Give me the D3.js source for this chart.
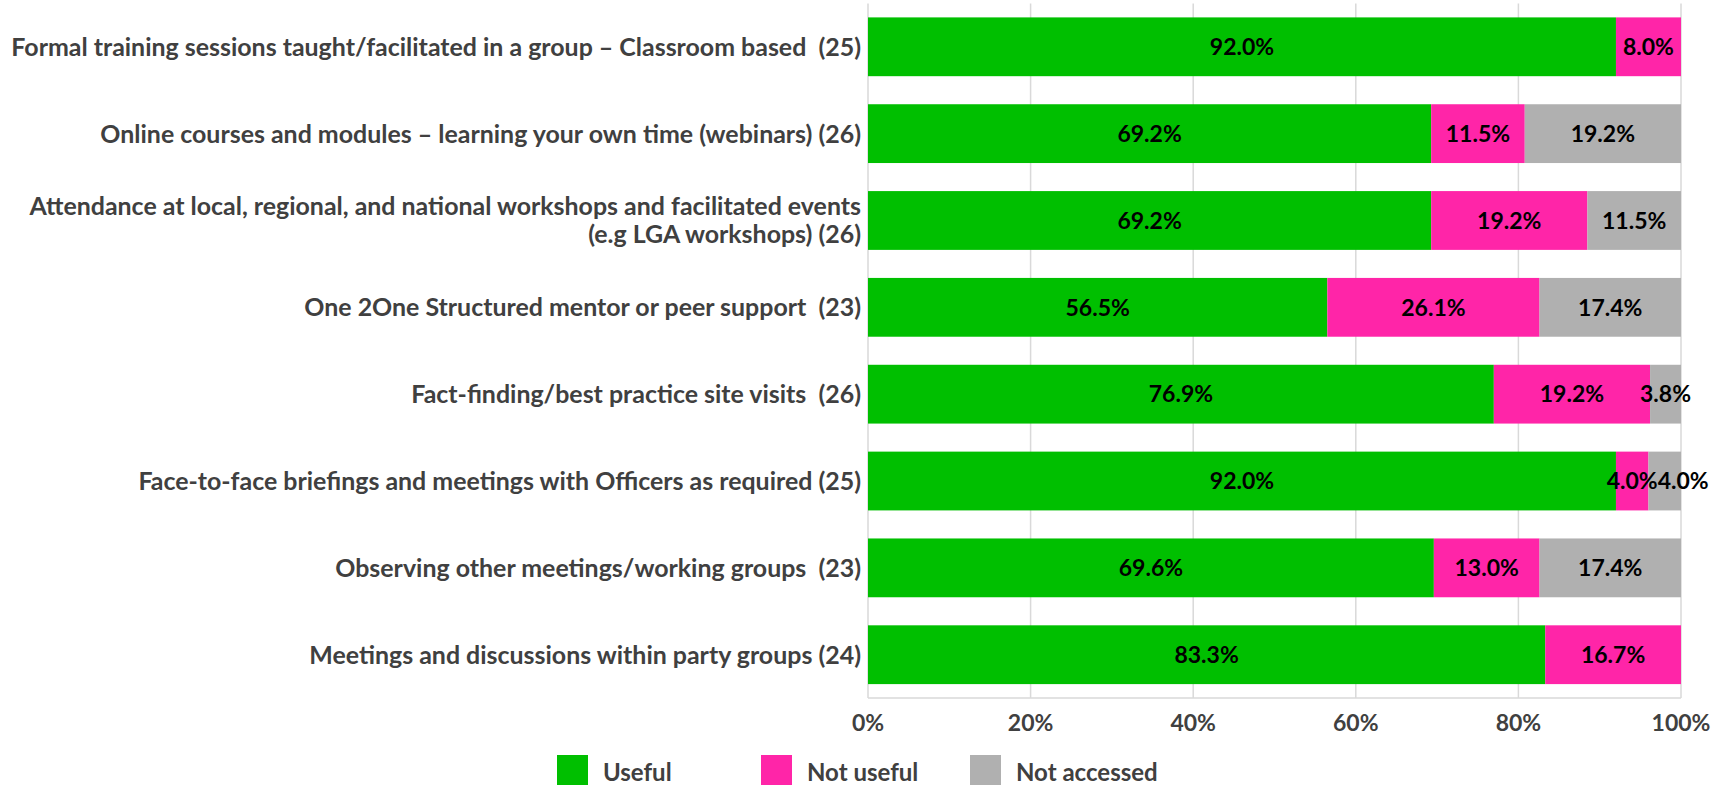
<!DOCTYPE html>
<html>
<head>
<meta charset="utf-8">
<script src="https://cdn.jsdelivr.net/npm/d3@7"></script>
<style>
  html, body { margin: 0; padding: 0; background: #ffffff; }
  svg { display: block; }
  text { font-family: Lato, "Open Sans", "DejaVu Sans", sans-serif; font-weight: 700; }
</style>
</head>
<body>
<svg id="chart" width="1729" height="785"></svg>
<script>
const categories = [
  "Formal training sessions taught/facilitated in a group \u2013 Classroom based  (25)",
  "Online courses and modules \u2013 learning your own time (webinars) (26)",
  "Attendance at local, regional, and national workshops and facilitated events\n(e.g LGA workshops) (26)",
  "One 2One Structured mentor or peer support  (23)",
  "Fact-finding/best practice site visits  (26)",
  "Face-to-face briefings and meetings with Officers as required (25)",
  "Observing other meetings/working groups  (23)",
  "Meetings and discussions within party groups (24)"
];
const useful      = [92.0, 69.2, 69.2, 56.5, 76.9, 92.0, 69.6, 83.3];
const notUseful   = [8.0, 11.5, 19.2, 26.1, 19.2, 4.0, 13.0, 16.7];
const notAccessed = [0.0, 19.2, 11.5, 17.4, 3.8, 4.0, 17.4, 0.0];
const seriesNames = ["Useful", "Not useful", "Not accessed"];
const xTicks = [0, 0.2, 0.4, 0.6, 0.8, 1.0];

const colors = ["#00BF00", "#FF25A8", "#B0B0B0"];
const seriesValues = [useful, notUseful, notAccessed];

const rows = categories.map((c, i) => {
  const r = { cat: c };
  seriesNames.forEach((s, j) => r[s] = seriesValues[j][i]);
  return r;
});

const svg = d3.select("#chart");
const x = d3.scaleLinear().domain([0, 1]).range([868, 1681]);
const y = d3.scaleBand().domain(categories).range([3.5, 698]).paddingInner(0.323).paddingOuter(0.16);

const stack = d3.stack().keys(seriesNames).offset(d3.stackOffsetExpand);
const stacked = stack(rows);

// gridlines
svg.append("g").selectAll("line").data(xTicks).join("line")
  .attr("x1", d => x(d)).attr("x2", d => x(d))
  .attr("y1", 3.5).attr("y2", 698)
  .attr("stroke", "#D9D9D9").attr("stroke-width", 1.5);
svg.append("line").attr("x1", x(0)).attr("x2", x(1)).attr("y1", 698).attr("y2", 698)
  .attr("stroke", "#D9D9D9").attr("stroke-width", 1.5);

// bars
const layers = svg.append("g").selectAll("g").data(stacked).join("g")
  .attr("fill", (d, i) => colors[i]);
layers.selectAll("rect").data(d => d.map(p => ({ p, cat: p.data.cat })))
  .join("rect")
  .attr("x", d => x(d.p[0]))
  .attr("width", d => Math.max(0, x(d.p[1]) - x(d.p[0])))
  .attr("y", d => y(d.cat))
  .attr("height", y.bandwidth());

// data labels
const labelG = svg.append("g");
const labelsByRow = categories.map(() => []);
stacked.forEach((layer, si) => {
  layer.forEach((p, ri) => {
    const v = seriesValues[si][ri];
    if (v <= 0) return;
    const t = labelG.append("text")
      .attr("x", x((p[0] + p[1]) / 2))
      .attr("y", y(p.data.cat) + y.bandwidth() / 2)
      .attr("dy", "0.36em")
      .attr("text-anchor", "middle")
      .attr("font-size", 23)
      .attr("fill", "#000000")
      .text(v.toFixed(1) + "%");
    labelsByRow[ri].push(t);
  });
});
// simple overlap avoidance: push later labels right
labelsByRow.forEach(list => {
  for (let k = 1; k < list.length; k++) {
    const prev = list[k - 1], cur = list[k];
    const pw = prev.node().getComputedTextLength();
    const cw = cur.node().getComputedTextLength();
    const prevRight = +prev.attr("x") + pw / 2;
    const curLeft = +cur.attr("x") - cw / 2;
    if (curLeft < prevRight) cur.attr("x", prevRight + cw / 2);
  }
});

// category labels
const catG = svg.append("g");
const catTexts = catG.selectAll("text").data(categories).join("text")
  .attr("text-anchor", "end")
  .attr("fill", "#404040")
  .attr("font-size", 22)
  .style("white-space", "pre")
  .attr("xml:space", "preserve");
catTexts.each(function (d) {
  const lines = d.split("\n");
  const t = d3.select(this);
  const cy = y(d) + y.bandwidth() / 2;
  const lh = 28;
  lines.forEach((ln, li) => {
    t.append("tspan")
      .attr("x", 861)
      .attr("y", cy + (li - (lines.length - 1) / 2) * lh)
      .attr("dy", "0.36em")
      .text(ln);
  });
});
// fit font so the longest single line matches the reference width
{
  const first = catTexts.filter((d, i) => i === 0).node();
  const w = first.getComputedTextLength();
  const fs = 22 * 850 / w;
  catTexts.attr("font-size", fs);
}

// x axis labels
svg.append("g").selectAll("text").data(xTicks).join("text")
  .attr("x", d => x(d))
  .attr("y", 723)
  .attr("dy", "0.36em")
  .attr("text-anchor", "middle")
  .attr("font-size", 23)
  .attr("fill", "#404040")
  .text(d => Math.round(d * 100) + "%");

// legend
const legendX = [557, 761, 970];
const lg = svg.append("g").selectAll("g").data(seriesNames).join("g")
  .attr("transform", (d, i) => `translate(${legendX[i]},755)`);
lg.append("rect").attr("width", 31).attr("height", 31).attr("fill", (d, i) => colors[i]);
lg.append("text").attr("x", 46).attr("y", 17).attr("dy", "0.36em")
  .attr("font-size", 24).attr("fill", "#404040").text(d => d);
</script>
</body>
</html>
